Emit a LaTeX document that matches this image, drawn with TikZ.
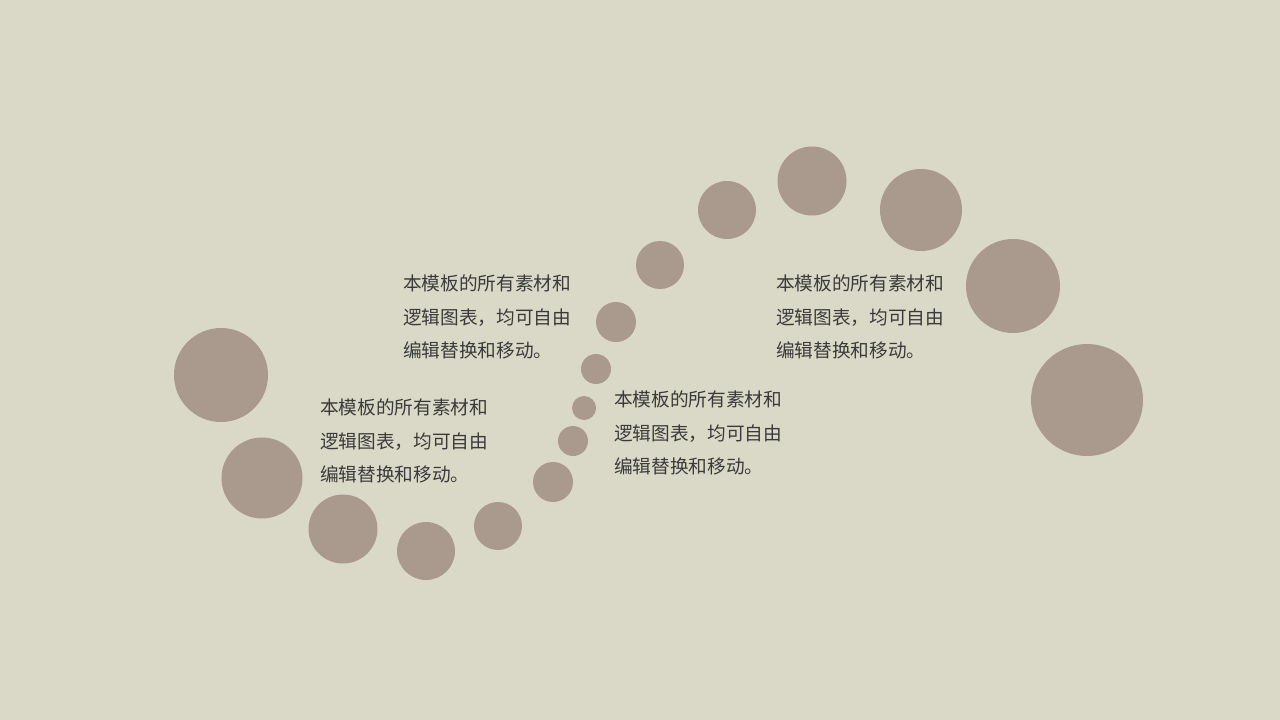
\documentclass[tikz,border=0pt]{standalone}
\usepackage{fontspec}
\newfontfamily\cjk{Noto Sans CJK SC}
\definecolor{bgcol}{HTML}{DAD9C8}
\definecolor{dotcol}{HTML}{AA9A8E}
\definecolor{txtcol}{HTML}{3A3A3A}
\tikzset{
	dot/.style={circle, fill=dotcol, inner sep=0pt, minimum size=#1},
	blurb/.style={anchor=west, inner sep=0pt, align=left, text=txtcol,
		font=\cjk\fontsize{14pt}{25pt}\selectfont}
}
\newcommand{\blurbtext}{本模板的所有素材和\\逻辑图表，均可自由\\编辑替换和移动。}

\begin{document}
\begin{tikzpicture}[x=0.75pt, y=-0.75pt]
	\fill[bgcol] (0,0) rectangle (1280,720);
	\useasboundingbox (0,0) rectangle (1280,720);

	% dots along the curve: x, y, diameter (px)
	\foreach \x/\y/\d [count=\i] in {221/375/94, 262/478/81, 343/529/69, 426/551/58,
		498/526/48, 553/482/40, 573/441/30, 584/408/24, 596/369/30, 616/322/40,
		660/265/48, 727/210/58, 812/181/69, 921/210/82, 1013/286/94, 1087/400/112}
		\node[dot=\d*0.75pt] (dot\i) at (\x,\y) {};

	\node[blurb] (textA) at (403,317) {\blurbtext};
	\node[blurb] (textB) at (320,441) {\blurbtext};
	\node[blurb] (textC) at (614,433) {\blurbtext};
	\node[blurb] (textD) at (776,317) {\blurbtext};
\end{tikzpicture}
\end{document}
